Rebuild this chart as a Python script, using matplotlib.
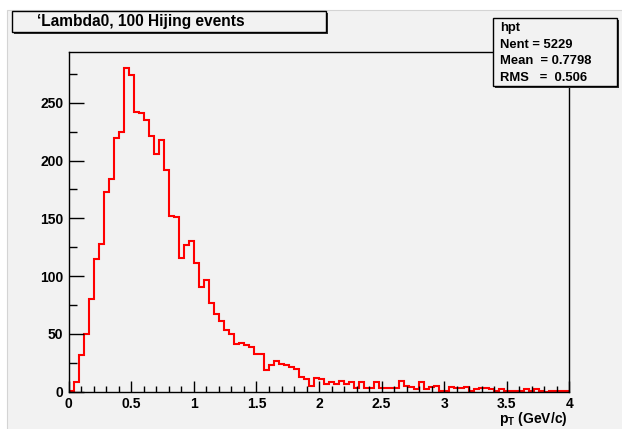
import numpy as np
import matplotlib
matplotlib.use("Agg")
import matplotlib.pyplot as plt
from matplotlib.patches import Rectangle

# hpt histogram, 100 bins on 0..4 GeV/c (counts)
counts = [1, 8, 32, 50, 80, 115, 128, 173, 184, 220,
          225, 280, 274, 242, 241, 235, 221, 206, 218, 192,
          152, 151, 116, 127, 130, 111, 91, 97, 77, 67,
          61, 53, 50, 41, 42, 40, 39, 33, 33, 19,
          23, 27, 24, 23, 21, 20, 13, 11, 5, 12,
          11, 7, 8, 7, 9, 7, 8, 3, 8, 3,
          3, 8, 3, 3, 3, 3, 9, 5, 4, 2,
          8, 2, 4, 5, 1, 1, 4, 3, 3, 4,
          1, 2, 3, 3, 2, 1, 2, 1, 1, 1,
          1, 2, 1, 2, 1, 0, 1, 1, 1, 1]
pt_min, pt_max, nbins = 0.0, 4.0, 100
x_ticks = [0, 0.5, 1, 1.5, 2, 2.5, 3, 3.5, 4]
x_ticklabels = ["0", "0.5", "1", "1.5", "2", "2.5", "3", "3.5", "4"]
y_ticks = [0, 50, 100, 150, 200, 250]

title = "\u2018Lambda0, 100 Hijing events"
stats = ["hpt", "Nent = 5229", "Mean  = 0.7798", "RMS   =  0.506"]

bg = "#f2f2f2"
plt.rcParams["font.family"] = ["Liberation Sans", "DejaVu Sans"]
plt.rcParams["font.weight"] = "bold"
plt.rcParams["mathtext.fontset"] = "custom"
plt.rcParams["mathtext.rm"] = "Liberation Sans:bold"
plt.rcParams["mathtext.bf"] = "Liberation Sans:bold"
plt.rcParams["mathtext.it"] = "Liberation Sans:bold"

W, H = 622, 429
fig = plt.figure(figsize=(W / 100, H / 100), dpi=100, facecolor="white")

def box(x0, y0, x1, y1, **kw):
    # pixel coords (top-left origin) -> figure fraction rectangle
    return Rectangle((x0 / W, 1 - y1 / H), (x1 - x0) / W, (y1 - y0) / H,
                     transform=fig.transFigure, **kw)

# canvas pad (behind the axes)
fig.patches.append(box(7, 10, 630, 440, facecolor=bg, edgecolor="#d4d4d4", lw=0.8, zorder=-10))

ax = fig.add_axes([68.8 / W, 1 - 391.7 / H, (569.3 - 68.8) / W, (391.7 - 52) / H])
ax.set_facecolor(bg)

edges = np.linspace(pt_min, pt_max, nbins + 1)
ax.stairs(counts, edges, color="red", lw=1.5, baseline=0)

ax.set_xlim(pt_min, pt_max)
ax.set_ylim(0, 1.05 * max(counts))
ax.set_xticks(x_ticks)
ax.set_xticklabels(x_ticklabels)
ax.set_xticks(np.arange(0, 4.01, 0.1), minor=True)
ax.set_yticks(y_ticks)
ax.set_yticks(np.arange(0, 290, 25), minor=True)
ax.tick_params(axis="x", which="major", direction="in", length=8, width=1, pad=4, labelsize=10)
ax.tick_params(axis="x", which="minor", direction="in", length=4.3, width=1)
ax.tick_params(axis="y", which="major", direction="in", length=11, width=1, pad=4, labelsize=10)
ax.tick_params(axis="y", which="minor", direction="in", length=5.8, width=1)
for s in ax.spines.values():
    s.set_linewidth(1)

fig.text(568 / W, 1 - 419.5 / H, r"$\mathbf{p_{T}}$ (GeV/c)", ha="right", va="center",
         fontsize=10, fontweight="bold")

# title box with shadow
fig.patches.append(box(14, 13, 328, 34, facecolor="#303030", edgecolor="none", zorder=5))
fig.patches.append(box(12, 11, 326, 32, facecolor=bg, edgecolor="black", lw=1, zorder=6))
fig.text(37 / W, 1 - 21.5 / H, title, ha="left", va="center", fontsize=11.2,
         fontweight="bold", zorder=7)

# stats box with shadow
fig.patches.append(box(495, 20, 619, 88, facecolor="#303030", edgecolor="none", zorder=5))
fig.patches.append(box(493, 18, 617, 86, facecolor=bg, edgecolor="black", lw=1, zorder=6))
for i, line in enumerate(stats):
    fig.text(500 / W, 1 - (28 + 16.7 * i) / H, line, ha="left", va="center",
             fontsize=9.4, fontweight="bold", zorder=7)

fig.savefig("out.png", dpi=100, facecolor=fig.get_facecolor())
